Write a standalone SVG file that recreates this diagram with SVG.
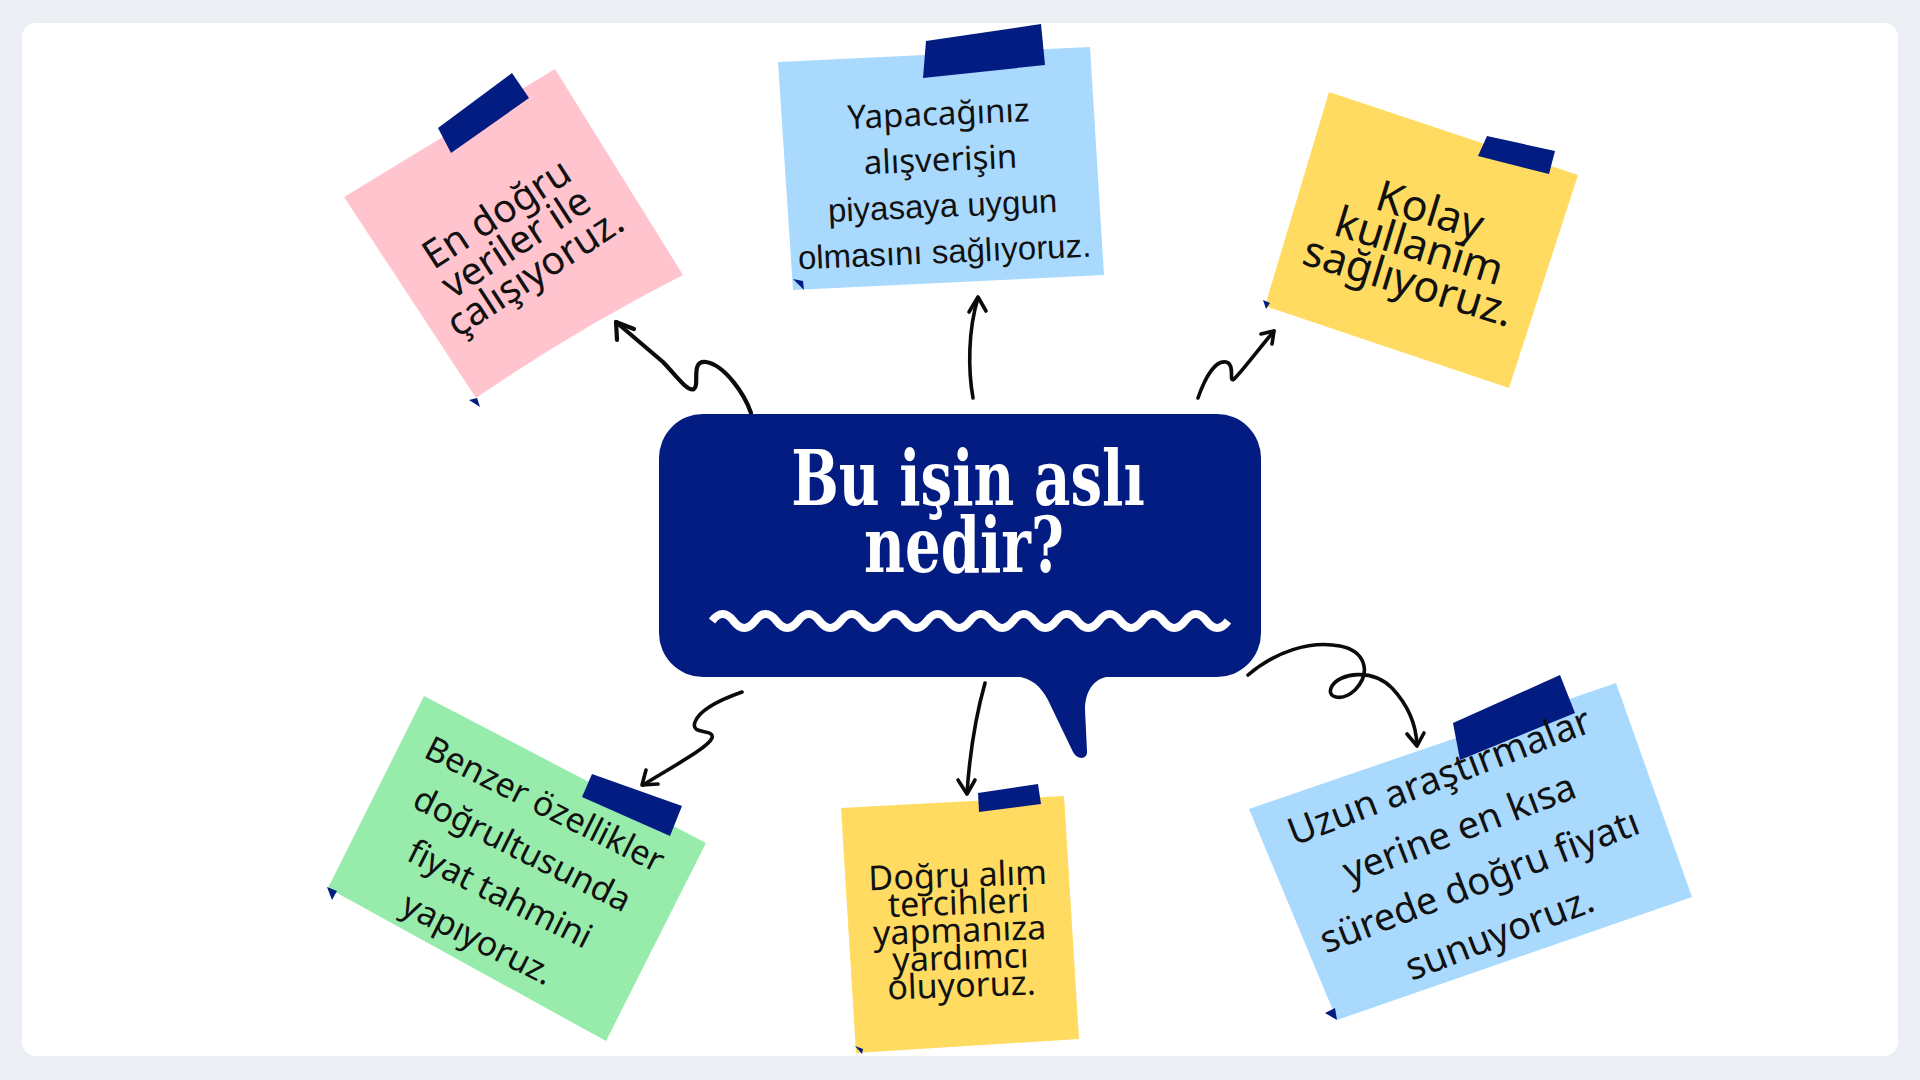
<svg xmlns="http://www.w3.org/2000/svg" width="1920" height="1080" viewBox="0 0 1920 1080">
<defs>
<style>
.note-text{font-family:"Noto Sans","DejaVu Sans",sans-serif;fill:#111;text-anchor:middle}
.arial{font-family:"Liberation Sans",Arial,sans-serif}
.tape{fill:#021C82}
.curl{fill:#021C82}
.conn{fill:none;stroke:#0b0b0b;stroke-width:3.6;stroke-linecap:round;stroke-linejoin:round}
.title{font-family:"DejaVu Serif","Liberation Serif",serif;font-weight:bold;fill:#fff;text-anchor:middle}
</style>
</defs>
<rect x="0" y="0" width="1920" height="1080" fill="#EBEEF2"/>
<rect x="22" y="23" width="1876" height="1033" rx="14" fill="#FFFFFF"/>

<g id="connectors">
  <path class="conn" style="stroke-width:4.2" d="M751,413 C745,395 725,365 706,362 C690,360 700,385 694,389 C688,392 680,380 663,362 L616,322"/>
  <path class="conn" style="stroke-width:4.2" d="M617,340 L616,322 L634,329"/>
  <path class="conn" d="M973,398 C968,370 968,330 978,298"/>
  <path class="conn" d="M969,312 L978,297 L986,311"/>
  <path class="conn" d="M1198,398 C1205,378 1215,360 1226,362 C1236,364 1228,384 1234,379 C1240,374 1258,350 1274,331"/>
  <path class="conn" d="M1261,334 L1274,331 L1272,344"/>
  <path class="conn" d="M742,692 C725,698 700,708 695,722 C690,736 715,728 712,738 C708,748 670,768 643,785"/>
  <path class="conn" d="M646,770 L642,785 L658,784"/>
  <path class="conn" d="M985,683 C976,715 970,750 967,793"/>
  <path class="conn" d="M958,780 L967,794 L975,780"/>
  <path class="conn" d="M1248,675 C1275,652 1310,640 1340,646 C1365,651 1372,672 1355,690 C1342,702 1325,698 1332,686 C1340,673 1372,668 1392,688 C1406,703 1416,722 1417,745"/>
  <path class="conn" d="M1407,734 L1417,746 L1424,733"/>
</g>

<g id="bubble">
  <rect x="659" y="414" width="602" height="263" rx="44" fill="#021C82"/>
  <path d="M1012,676 C1030,677 1040,685 1048,700 L1073,752 C1077,760 1088,760 1087,751 L1085,710 C1085,690 1095,676 1114,676 Z" fill="#021C82"/>
  <text class="title" font-size="76" transform="scale(0.74,1)"><tspan x="1308.1" y="505">Bu işin aslı</tspan><tspan x="1302.7" y="572">nedir?</tspan></text>
  <path d="M712,621 q10.75,-14 21.5,0 t21.5,0 t21.5,0 t21.5,0 t21.5,0 t21.5,0 t21.5,0 t21.5,0 t21.5,0 t21.5,0 t21.5,0 t21.5,0 t21.5,0 t21.5,0 t21.5,0 t21.5,0 t21.5,0 t21.5,0 t21.5,0 t21.5,0 t21.5,0 t21.5,0 t21.5,0 t21.5,0" fill="none" stroke="#fff" stroke-width="8" stroke-linecap="butt" stroke-linejoin="round"/>
</g>

<g id="note-pink">
  <path d="M344,197 L555,69 L683,275 Q575,330 476,398 Z" fill="#FFC4CE"/>
  <polygon class="tape" points="438,128 512,73 529,98 451,153"/>
  <polygon class="curl" points="469,400 477,398 480,407"/>
  <g transform="translate(523,254) rotate(-33)">
    <text class="note-text" font-size="39" y="-35">En doğru</text>
    <text class="note-text" font-size="39" y="0">veriler ile</text>
    <text class="note-text" font-size="39" y="35">çalışıyoruz.</text>
  </g>
</g>

<g id="note-blue-top">
  <path d="M778,62 L1090,47 L1104,275 L793,290 Z" fill="#A9DAFE"/>
  <polygon class="tape" points="926,41 1041,24 1045,65 923,78"/>
  <polygon class="curl" points="793,279 803,281 804,290"/>
  <g transform="translate(942,194) rotate(-2.5)">
    <text class="note-text" font-size="33" y="-69">Yapacağınız</text>
    <text class="note-text" font-size="33" y="-23">alışverişin</text>
    <text class="note-text arial" font-size="33" y="23">piyasaya uygun</text>
    <text class="note-text arial" font-size="33" y="69">olmasını sağlıyoruz.</text>
  </g>
</g>

<g id="note-yellow-top">
  <path d="M1329,92 L1578,175 L1509,388 L1265,306 Z" fill="#FFDB62"/>
  <polygon class="tape" points="1487,136 1555,151 1549,174 1478,156"/>
  <polygon class="curl" points="1263,300 1270,303 1266,309"/>
  <g transform="translate(1415,260) rotate(17)">
    <text class="note-text" font-size="43" y="-37">Kolay</text>
    <text class="note-text" font-size="43" y="0">kullanim</text>
    <text class="note-text" font-size="43" y="37">sağlıyoruz.</text>
  </g>
</g>

<g id="note-green">
  <path d="M424,696 L706,843 L606,1041 L328,888 Z" fill="#98ECAB"/>
  <polygon class="tape" points="592,774 682,806 670,836 582,797"/>
  <polygon class="curl" points="327,887 337,891 332,900"/>
  <g transform="translate(506,882) rotate(26.5)">
    <text class="note-text" font-size="34" y="-75">Benzer özellikler</text>
    <text class="note-text" font-size="34" y="-25">doğrultusunda</text>
    <text class="note-text" font-size="34" y="25">fiyat tahmini</text>
    <text class="note-text" font-size="34" y="75">yapıyoruz.</text>
  </g>
</g>

<g id="note-yellow-bottom">
  <path d="M841,808 L1064,796 L1079,1039 L856,1053 Z" fill="#FFDB62"/>
  <polygon class="tape" points="978,793 1038,784 1041,804 979,812"/>
  <polygon class="curl" points="855,1046 863,1049 862,1054"/>
  <g transform="translate(960,942) rotate(-2)">
    <text class="note-text" font-size="34" y="-55">Doğru alım</text>
    <text class="note-text" font-size="34" y="-27.5">tercihleri</text>
    <text class="note-text" font-size="34" y="0">yapmanıza</text>
    <text class="note-text" font-size="34" y="27.5">yardımcı</text>
    <text class="note-text" font-size="34" y="55">oluyoruz.</text>
  </g>
</g>

<g id="note-blue-bottom">
  <path d="M1249,809 L1616,683 L1692,897 L1337,1020 Z" fill="#A9DAFE"/>
  <polygon class="tape" points="1453,723 1560,675 1575,713 1460,760"/>
  <polygon class="curl" points="1325,1013 1335,1008 1337,1020"/>
  <g transform="translate(1474,867) rotate(-21)">
    <text class="note-text" font-size="38" y="-84">Uzun araştırmalar</text>
    <text class="note-text" font-size="38" y="-28">yerine en kısa</text>
    <text class="note-text" font-size="38" y="28">sürede doğru fiyatı</text>
    <text class="note-text" font-size="38" y="84">sunuyoruz.</text>
  </g>
</g>
</svg>
